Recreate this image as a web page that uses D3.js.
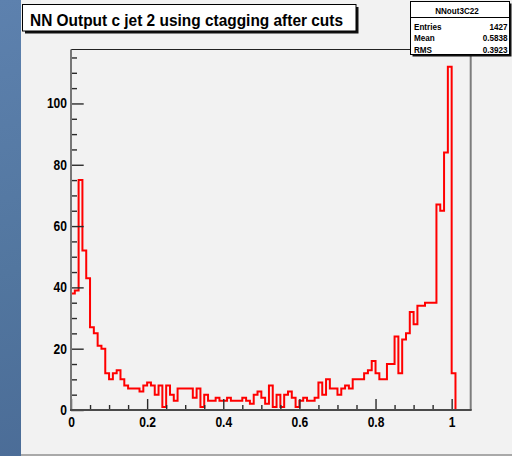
<!DOCTYPE html>
<html>
<head>
<meta charset="utf-8">
<script src="https://cdn.jsdelivr.net/npm/d3@7"></script>
<style>
  body { margin: 0; background: #52759f; }
  svg { display: block; }
</style>
</head>
<body>
<svg id="chart"></svg>
<script>
const title = 'NN Output c jet 2 using ctagging after cuts';
const histName = 'NNout3C22';
const statLabels = ['Entries', 'Mean', 'RMS'];
const statValues = ['1427', '0.5838', '0.3923'];

// histogram range and bin contents (bin width 0.01)
const xRange = [0, 1.05];
const counts = [
  38, 39, 75, 52, 43, 27, 25, 21, 20, 12, 10, 12, 13, 10, 8, 7, 7, 7, 6, 8,
  9, 8, 5, 8, 1, 8, 5, 3, 7, 7, 7, 7, 4, 7, 1, 5, 3, 3, 4, 3,
  3, 4, 3, 3, 3, 4, 3, 2, 5, 6, 4, 2, 8, 1, 5, 1, 5, 6, 4, 1, 3, 4, 3, 3, 4,
  9, 5, 10, 7, 7, 5, 7, 8, 7, 10, 10, 10, 12, 13, 16,
  12, 10, 10, 15, 15, 24, 12, 23, 25, 32, 28, 34, 34, 35, 35, 35, 67, 65, 84, 112, 12, 0, 0, 0, 0
];

const xMajorTicks = [0, 0.2, 0.4, 0.6, 0.8, 1];
const xMinorTicks = [0.05, 0.1, 0.15, 0.25, 0.3, 0.35, 0.45, 0.5, 0.55, 0.65, 0.7, 0.75, 0.85, 0.9, 0.95];
const yMajorTicks = [0, 20, 40, 60, 80, 100];
const yMinorTicks = [5, 10, 15, 25, 30, 35, 45, 50, 55, 65, 70, 75, 85, 90, 95, 105, 110, 115];

const width = 512;
const height = 456;
const margin = { top: 49.5, right: 41.3, bottom: 46, left: 71 };
const labelFont = '"Liberation Sans", Arial, Helvetica, sans-serif';

const svg = d3.select('#chart').attr('width', width).attr('height', height);

function drawBackground() {
  const grad = svg.append('defs')
    .append('linearGradient')
    .attr('id', 'ocean')
    .attr('x1', 0).attr('y1', 0)
    .attr('x2', 0.3).attr('y2', 1);
  grad.append('stop').attr('offset', '0%').attr('stop-color', '#5d81ae');
  grad.append('stop').attr('offset', '55%').attr('stop-color', '#52769f');
  grad.append('stop').attr('offset', '100%').attr('stop-color', '#4a6b96');

  svg.append('rect')
    .attr('width', width).attr('height', height)
    .attr('fill', 'url(#ocean)');

  // ROOT canvas
  svg.append('rect')
    .attr('x', 21).attr('y', 0)
    .attr('width', width - 21).attr('height', 454)
    .attr('fill', '#f2f2f2');
  svg.append('rect')
    .attr('x', 21).attr('y', 454)
    .attr('width', width - 21).attr('height', 2)
    .attr('fill', '#a9a9a9');
}

function squeeze(sel, k) {
  sel.each(function () {
    const len = this.getComputedTextLength();
    d3.select(this)
      .attr('textLength', len * k)
      .attr('lengthAdjust', 'spacingAndGlyphs');
  });
}

function drawChart() {
  const w = width - margin.left - margin.right;
  const h = height - margin.top - margin.bottom;
  const g = svg.append('g').attr('transform', `translate(${margin.left},${margin.top})`);

  const yMax = d3.max(counts) * 1.05;
  const x = d3.scaleLinear().domain(xRange).range([0, w]);
  const y = d3.scaleLinear().domain([0, yMax]).range([h, 0]);

  const binWidth = (xRange[1] - xRange[0]) / counts.length;
  const steps = counts.map((c, i) => ({ edge: xRange[0] + i * binWidth, c }));
  steps.push({ edge: xRange[1], c: counts[counts.length - 1] });

  const line = d3.line()
    .x(d => x(d.edge))
    .y(d => y(d.c))
    .curve(d3.curveStepAfter);

  g.append('path')
    .datum(steps)
    .attr('d', line)
    .attr('fill', 'none')
    .attr('stroke', '#ff0000')
    .attr('stroke-width', 2);

  // x axis
  const xMinor = g.append('g')
    .attr('class', 'axis')
    .attr('transform', `translate(0,${h})`)
    .call(d3.axisBottom(x).tickValues(xMinorTicks).tickSize(-5).tickFormat(''));
  const xMajor = g.append('g')
    .attr('class', 'axis axis-x')
    .attr('transform', `translate(0,${h})`)
    .call(d3.axisBottom(x).tickValues(xMajorTicks).tickSize(-11).tickPadding(7).tickFormat(d3.format('')));

  // y axis
  const yMinor = g.append('g')
    .attr('class', 'axis')
    .call(d3.axisLeft(y).tickValues(yMinorTicks).tickSize(-6).tickFormat(''));
  const yMajor = g.append('g')
    .attr('class', 'axis axis-y')
    .call(d3.axisLeft(y).tickValues(yMajorTicks).tickSize(-12.7).tickPadding(4));

  [xMinor, xMajor, yMinor, yMajor].forEach(a => {
    a.select('.domain').remove();
    a.selectAll('.tick line').attr('stroke', '#2b2b2b').attr('stroke-width', 1.4);
  });

  g.selectAll('.axis-x text, .axis-y text')
    .attr('font-family', labelFont)
    .attr('font-weight', 'bold')
    .attr('font-size', 14)
    .attr('fill', '#000');
  squeeze(g.selectAll('.axis-x text, .axis-y text'), 0.86);

  // frame
  g.append('line').attr('x1', 0).attr('x2', w).attr('y1', 0).attr('y2', 0)
    .attr('stroke', '#222').attr('stroke-width', 1.2);
  g.append('line').attr('x1', w).attr('x2', w).attr('y1', 0).attr('y2', h)
    .attr('stroke', '#7d7d7d').attr('stroke-width', 2);
  g.append('line').attr('x1', 0).attr('x2', 0).attr('y1', 0).attr('y2', h)
    .attr('stroke', '#777').attr('stroke-width', 2);
  g.append('line').attr('x1', -1).attr('x2', w + 1).attr('y1', h).attr('y2', h)
    .attr('stroke', '#4a4a4a').attr('stroke-width', 2);
}

function drawTitle() {
  const box = { x: 22.5, y: 4.5, w: 333.5, h: 26.5 };
  svg.append('rect')
    .attr('x', box.x + 2.5).attr('y', box.y + 2.5)
    .attr('width', box.w).attr('height', box.h)
    .attr('fill', '#111');
  svg.append('rect')
    .attr('x', box.x).attr('y', box.y)
    .attr('width', box.w).attr('height', box.h)
    .attr('fill', '#fff').attr('stroke', '#000').attr('stroke-width', 1);
  svg.append('text')
    .attr('x', 30).attr('y', 25.5)
    .attr('font-family', labelFont)
    .attr('font-weight', 'bold')
    .attr('font-size', 17)
    .attr('textLength', 313)
    .attr('lengthAdjust', 'spacingAndGlyphs')
    .text(title);
}

function drawStats() {
  const box = { x: 410.5, y: 1.5, w: 99, h: 53 };
  const stats = svg.append('g');
  stats.append('rect')
    .attr('x', box.x + 2).attr('y', box.y + 2)
    .attr('width', box.w).attr('height', box.h)
    .attr('fill', '#111');
  stats.append('rect')
    .attr('x', box.x).attr('y', box.y)
    .attr('width', box.w).attr('height', box.h)
    .attr('fill', '#fff').attr('stroke', '#000').attr('stroke-width', 1);
  stats.append('line')
    .attr('x1', box.x).attr('x2', box.x + box.w)
    .attr('y1', 17.5).attr('y2', 17.5)
    .attr('stroke', '#000').attr('stroke-width', 1);

  const font = t => t
    .attr('font-family', labelFont)
    .attr('font-weight', 'bold')
    .attr('font-size', 9)
    .attr('fill', '#000');

  stats.append('text')
    .attr('x', box.x + box.w / 2 - 3).attr('y', 13.5)
    .attr('text-anchor', 'middle')
    .call(font)
    .text(histName);

  const rowY = [29.9, 41.2, 52.5];
  stats.selectAll('.stat-label')
    .data(statLabels)
    .join('text')
    .attr('class', 'stat-label')
    .attr('x', box.x + 3.5)
    .attr('y', (d, i) => rowY[i])
    .call(font)
    .text(d => d);
  stats.selectAll('.stat-value')
    .data(statValues)
    .join('text')
    .attr('class', 'stat-value')
    .attr('x', box.x + box.w - 2)
    .attr('y', (d, i) => rowY[i])
    .attr('text-anchor', 'end')
    .call(font)
    .text(d => d);
  squeeze(stats.selectAll('text'), 0.9);
}

drawBackground();
drawChart();
drawTitle();
drawStats();
</script>
</body>
</html>
